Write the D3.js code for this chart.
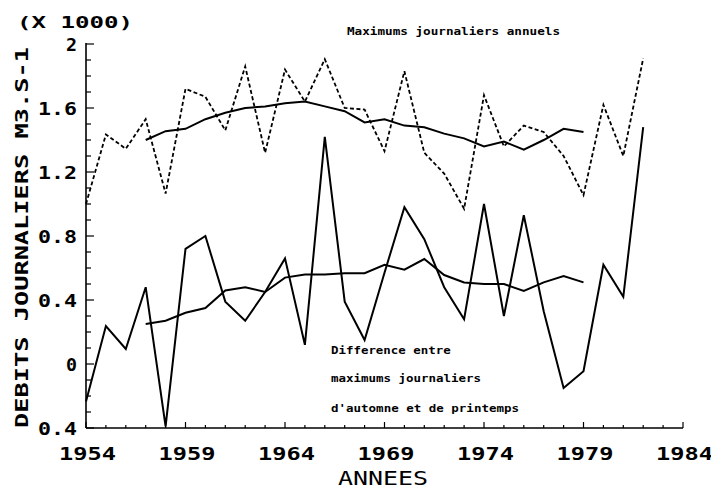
<!DOCTYPE html>
<html><head><meta charset="utf-8">
<script src="https://cdn.jsdelivr.net/npm/d3@7"></script>
<style>
html,body{margin:0;padding:0;background:#fff;}
svg{display:block;}
text{font-family:"DejaVu Sans Mono",monospace;fill:#000;}
</style></head>
<body><svg id="c" width="711" height="490"></svg>
<script>
// ---- data ----
const years = [1954,1955,1956,1957,1958,1959,1960,1961,1962,1963,1964,1965,1966,1967,1968,1969,1970,1971,1972,1973,1974,1975,1976,1977,1978,1979,1980,1981,1982];
const annualMax = [1.00,1.435,1.345,1.53,1.065,1.72,1.67,1.46,1.86,1.32,1.84,1.64,1.905,1.60,1.59,1.33,1.83,1.32,1.19,0.97,1.68,1.36,1.49,1.45,1.30,1.055,1.62,1.30,1.91];
const diffAutSpr = [-0.235,0.2375,0.094,0.48,-0.39,0.72,0.80,0.39,0.27,0.45,0.66,0.12,1.42,0.39,0.15,0.57,0.98,0.78,0.48,0.28,1.00,0.30,0.93,0.33,-0.15,-0.045,0.62,0.42,1.48];
const smoothYears = [1957,1958,1959,1960,1961,1962,1963,1964,1965,1966,1967,1968,1969,1970,1971,1972,1973,1974,1975,1976,1977,1978,1979];
const smoothMax = [1.40,1.455,1.47,1.53,1.57,1.60,1.61,1.63,1.64,1.61,1.58,1.51,1.53,1.49,1.48,1.44,1.41,1.36,1.39,1.34,1.40,1.47,1.45];
const smoothDiff = [0.25,0.27,0.32,0.35,0.46,0.48,0.45,0.54,0.56,0.56,0.567,0.567,0.62,0.59,0.656,0.556,0.51,0.50,0.50,0.456,0.51,0.55,0.51];
const xTickValues = [1954,1959,1964,1969,1974,1979,1984];
const yTickValues = [-0.4,0,0.4,0.8,1.2,1.6,2];
const yTickLabels = ["0.4","0","0.4","0.8","1.2","1.6","2"];
const yTitle = "DEBITS JOURNALIERS M3.S-1";
const xTitle = "ANNEES";
const unitLabel = "(X 1000)";
const topNote = "Maximums journaliers annuels";
const bottomNote = ["Difference entre","maximums journaliers","d'automne et de printemps"];

// ---- scales ----
const svg = d3.select("#c");
const x = d3.scaleLinear().domain([1954,1984]).range([86,683]);
const y = d3.scaleLinear().domain([-0.4,2]).range([428,44]);

// axes lines
const g = svg.append("g").attr("stroke","#000").attr("stroke-width",1.6).attr("fill","none");
g.append("line").attr("x1",x(1954)).attr("x2",x(1984)).attr("y1",y(-0.4)).attr("y2",y(-0.4));
g.append("line").attr("x1",x(1954)).attr("x2",x(1954)).attr("y1",y(-0.4)).attr("y2",y(2)-1);

// x ticks (yearly minor, 5-year major), pointing inward
const xt = d3.range(1954,1985);
g.selectAll(".xt").data(xt).enter().append("line")
  .attr("x1",d=>x(d)).attr("x2",d=>x(d))
  .attr("y1",y(-0.4)).attr("y2",d=> y(-0.4) - (xTickValues.includes(d)?6:3))
  .attr("stroke-width",1.2);
// y ticks every 0.1
const yt = y.ticks(24);
g.selectAll(".yt").data(yt).enter().append("line")
  .attr("x1",x(1954)).attr("x2",d=> x(1954) + (yTickValues.some(v=>Math.abs(v-d)<1e-6)?8:5))
  .attr("y1",d=>y(d)).attr("y2",d=>y(d))
  .attr("stroke-width",1.2);

// tick labels
svg.selectAll(".xl").data(xTickValues).enter().append("text")
  .attr("x",d=>x(d)+1.5).attr("y",460).attr("text-anchor","middle")
  .attr("font-size",18).attr("font-weight","bold").attr("textLength",57).attr("lengthAdjust","spacingAndGlyphs")
  .text(d=>String(d));
svg.selectAll(".yl").data(yTickValues).enter().append("text")
  .attr("x",77).attr("y",d=>y(d)+6.5).attr("text-anchor","end")
  .attr("font-size",18).attr("font-weight","bold")
  .each(function(d,i){
    const s = yTickLabels[i];
    d3.select(this).attr("textLength", s.length*14 - 3).attr("lengthAdjust","spacingAndGlyphs").text(s);
  });

// titles
svg.append("text").attr("transform","translate(28,"+((47+428)/2)+") rotate(-90)")
  .attr("text-anchor","middle").attr("font-size",18).attr("font-weight","bold")
  .attr("textLength",381).attr("lengthAdjust","spacingAndGlyphs").text(yTitle);
svg.append("text").attr("x",383).attr("y",485).attr("text-anchor","middle")
  .attr("font-size",19).attr("font-family","DejaVu Sans, sans-serif")
  .attr("textLength",90).attr("lengthAdjust","spacingAndGlyphs").text(xTitle);
svg.append("text").attr("x",17).attr("y",28).attr("font-size",16).attr("font-weight","bold")
  .attr("textLength",116).attr("lengthAdjust","spacingAndGlyphs").text(unitLabel);
svg.append("text").attr("x",347).attr("y",35).attr("font-size",10).attr("font-weight","bold")
  .attr("textLength",213).attr("lengthAdjust","spacingAndGlyphs").text(topNote);
const noteY = [354,382,412];
svg.selectAll(".bn").data(bottomNote).enter().append("text")
  .attr("x",331).attr("y",(d,i)=>noteY[i]).attr("font-size",10).attr("font-weight","bold")
  .attr("textLength",d=>d.length*7.6-2).attr("lengthAdjust","spacingAndGlyphs").text(d=>d);

// lines
const line = d3.line().x(d=>x(d[0])).y(d=>y(d[1]));
const path = (xs,vs,dash,w)=> svg.append("path")
  .attr("d", line(xs.map((yr,i)=>[yr,vs[i]])))
  .attr("fill","none").attr("stroke","#000").attr("stroke-width",w)
  .attr("stroke-linejoin","miter").attr("stroke-dasharray",dash);
path(years, annualMax, "4,2.5", 1.8);
path(smoothYears, smoothMax, null, 2);
path(years, diffAutSpr, null, 2);
path(smoothYears, smoothDiff, null, 2);
</script></body></html>
